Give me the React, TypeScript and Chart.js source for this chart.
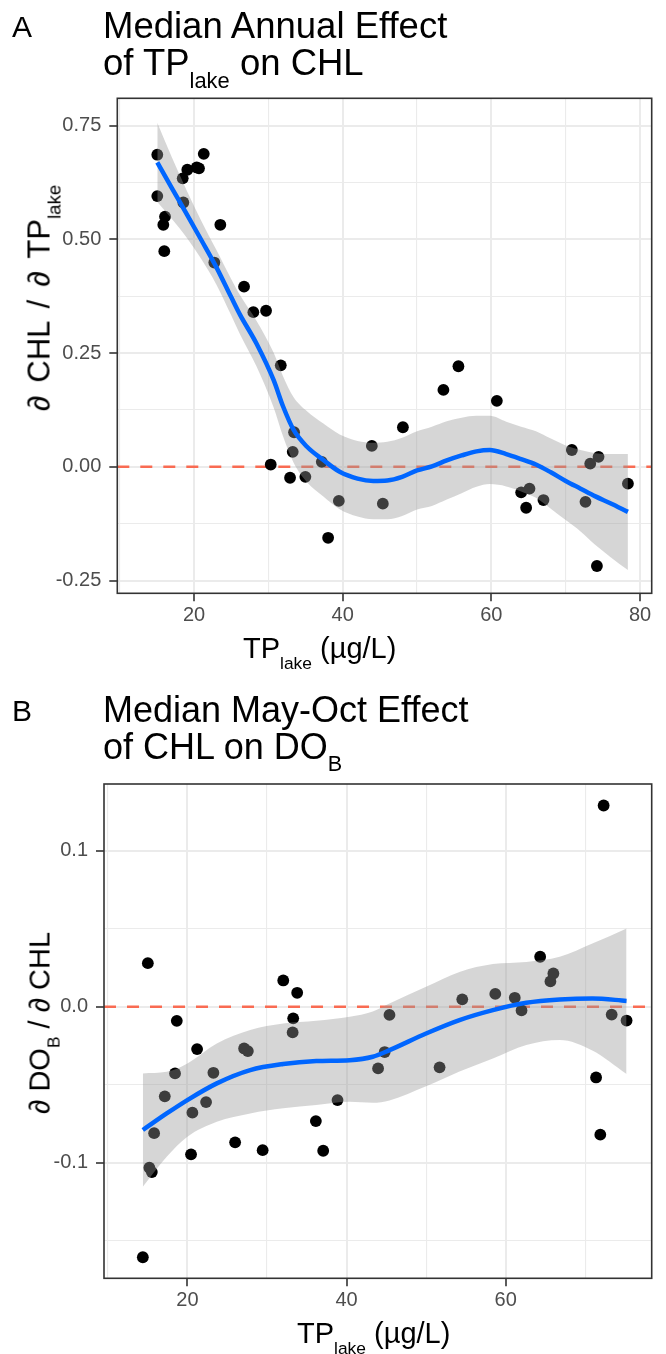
import React, { useEffect, useRef } from "react";
import { Chart, registerables } from "chart.js";
Chart.register(...registerables);

// ---------- Panel A data ----------
const tpA = [15.06, 21.31, 19.1, 20.67, 20.36, 18.48, 15.06, 18.56, 16.1, 15.87, 23.54, 16.0, 22.73, 26.73, 27.98, 29.69, 31.67, 30.32, 33.46, 33.28, 32.92, 34.98, 37.19, 39.48, 38.04, 43.92, 45.4, 48.1, 53.55, 55.57, 60.74, 64.01, 65.13, 64.68, 67.01, 70.83, 72.66, 73.3, 74.42, 74.2, 78.37];
const effA = [0.686, 0.688, 0.653, 0.656, 0.658, 0.634, 0.595, 0.581, 0.55, 0.532, 0.532, 0.474, 0.449, 0.396, 0.34, 0.343, 0.223, 0.005, 0.076, 0.033, -0.024, -0.022, 0.011, -0.075, -0.156, 0.046, -0.081, 0.087, 0.169, 0.221, 0.145, -0.056, -0.048, -0.09, -0.073, 0.037, -0.077, 0.007, 0.022, -0.218, -0.037];
const smoothXA = [15.06, 17, 19, 21, 23, 25, 26.2, 28.4, 30.7, 32, 33.4, 35.2, 37.4, 39.6, 42, 44.1, 46, 48, 50, 52, 54, 56, 58, 59.8, 62, 64, 66, 68, 70, 72, 74, 76, 78.37];
const smoothFitA = [0.669, 0.613, 0.556, 0.498, 0.439, 0.373, 0.334, 0.271, 0.191, 0.132, 0.081, 0.044, 0.015, -0.011, -0.026, -0.031, -0.03, -0.022, -0.008, 0.001, 0.014, 0.025, 0.034, 0.037, 0.028, 0.017, 0.005, -0.012, -0.031, -0.048, -0.065, -0.08, -0.099];
const smoothHiA = [0.756, 0.681, 0.608, 0.54, 0.477, 0.413, 0.377, 0.321, 0.251, 0.198, 0.153, 0.122, 0.095, 0.071, 0.057, 0.053, 0.055, 0.064, 0.078, 0.088, 0.1, 0.108, 0.112, 0.112, 0.099, 0.088, 0.078, 0.062, 0.047, 0.037, 0.03, 0.028, 0.028];
const smoothLoA = [0.582, 0.545, 0.504, 0.456, 0.401, 0.333, 0.291, 0.221, 0.131, 0.066, 0.009, -0.034, -0.065, -0.093, -0.109, -0.115, -0.115, -0.108, -0.094, -0.086, -0.072, -0.058, -0.044, -0.038, -0.043, -0.054, -0.068, -0.092, -0.117, -0.142, -0.172, -0.198, -0.227];
const xMajorA = [20, 40, 60, 80];
const xLabelsA = ["20", "40", "60", "80"];
const xMinorA = [10, 30, 50, 70];
const yMajorA = [-0.25, 0, 0.25, 0.5, 0.75];
const yLabelsA = ["-0.25", "0.00", "0.25", "0.50", "0.75"];
const yMinorA = [-0.125, 0.125, 0.375, 0.625];

// ---------- Panel B data ----------
const tpB = [14.4, 15.03, 15.22, 15.53, 15.82, 17.16, 18.45, 18.67, 20.46, 20.63, 21.22, 22.35, 23.27, 26.0, 27.13, 27.6, 29.46, 32.05, 33.23, 33.3, 33.8, 36.15, 37.07, 38.87, 43.97, 44.8, 45.4, 51.7, 54.55, 58.7, 61.15, 62.0, 64.34, 65.63, 66.0, 71.37, 71.9, 72.32, 73.33, 75.2];
const effB = [-0.1606, 0.028, -0.1032, -0.106, -0.081, -0.0574, -0.0427, -0.009, -0.0946, -0.0679, -0.0271, -0.0611, -0.0423, -0.0869, -0.0267, -0.0284, -0.0919, 0.0169, -0.0164, -0.0074, 0.009, -0.0733, -0.0923, -0.0598, -0.0395, -0.029, -0.0052, -0.0388, 0.0048, 0.0083, 0.0058, -0.0023, 0.0321, 0.0163, 0.0214, -0.0453, -0.082, 0.1291, -0.005, -0.0088];
const smoothXB = [14.4, 17.4, 20, 23.7, 27.9, 32.05, 36.2, 40.4, 43.3, 45.4, 50, 54.2, 58.4, 62.6, 66.8, 70.9, 75.2];
const smoothFitB = [-0.079, -0.0684, -0.0598, -0.0491, -0.0406, -0.0367, -0.0348, -0.0342, -0.032, -0.0278, -0.0171, -0.0085, -0.0021, 0.0026, 0.0047, 0.0054, 0.0038];
const smoothHiB = [-0.0427, -0.0417, -0.0363, -0.0235, -0.0149, -0.0107, -0.009, -0.0064, -0.003, 0.0022, 0.0128, 0.0224, 0.0274, 0.0288, 0.0321, 0.0406, 0.0503];
const smoothLoB = [-0.1154, -0.0962, -0.0833, -0.0737, -0.0684, -0.0651, -0.063, -0.0609, -0.0615, -0.06, -0.051, -0.0415, -0.0331, -0.0245, -0.0213, -0.028, -0.0431];
const xMajorB = [20, 40, 60];
const xLabelsB = ["20", "40", "60"];
const xMinorB = [10, 30, 50, 70];
const yMajorB = [-0.1, 0, 0.1];
const yLabelsB = ["-0.1", "0.0", "0.1"];
const yMinorB = [-0.15, -0.05, 0.05];

// ---------- styling ----------
const FONT = '"Liberation Sans", Arial, Helvetica, sans-serif';
const GRID = "#EBEBEB";
const FRAME = "#333333";
const TICKTXT = "#4D4D4D";
const FIT = "#0066FF";
const BAND = "rgba(153,153,153,0.4)";
const ZERO = "rgba(250,96,68,0.92)";

type Panel = {
  x: number[]; y: number[];
  sx: number[]; fit: number[]; hi: number[]; lo: number[];
  xMajor: number[]; xLabels: string[]; xMinor: number[];
  yMajor: number[]; yLabels: string[]; yMinor: number[];
  xMin: number; xMax: number; yMin: number; yMax: number;
  canvasTop: number; canvasH: number;
  areaLeft: number; areaTop: number; areaRight: number; areaBottom: number;
};

const near = (arr: number[], v: number) => arr.findIndex((a) => Math.abs(a - v) < 1e-9);

const framePlugin = {
  id: "frame",
  afterDraw(chart: any) {
    const { ctx, chartArea } = chart;
    ctx.save();
    ctx.strokeStyle = FRAME;
    ctx.lineWidth = 1.6;
    ctx.strokeRect(chartArea.left, chartArea.top, chartArea.right - chartArea.left, chartArea.bottom - chartArea.top);
    ctx.restore();
  },
};

const zeroPlugin = {
  id: "zeroLine",
  beforeDatasetsDraw(chart: any) {
    const { ctx, chartArea, scales } = chart;
    const py = scales.y.getPixelForValue(0);
    ctx.save();
    ctx.strokeStyle = ZERO;
    ctx.lineWidth = 2.6;
    ctx.setLineDash([12, 11]);
    ctx.beginPath();
    ctx.moveTo(chartArea.left, py);
    ctx.lineTo(chartArea.right, py);
    ctx.stroke();
    ctx.restore();
  },
};

function buildConfig(p: Panel): any {
  const pts = p.x.map((x, i) => ({ x, y: p.y[i] }));
  const fit = p.sx.map((x, i) => ({ x, y: p.fit[i] }));
  const lo = p.sx.map((x, i) => ({ x, y: p.lo[i] }));
  const hi = p.sx.map((x, i) => ({ x, y: p.hi[i] }));
  const xTicks = [...p.xMajor, ...p.xMinor].sort((a, b) => a - b);
  const yTicks = [...p.yMajor, ...p.yMinor].sort((a, b) => a - b);
  const tickFont = { family: FONT, size: 20 };
  return {
    type: "scatter",
    data: {
      datasets: [
        { type: "line", data: fit, borderColor: FIT, borderWidth: 4.5, pointRadius: 0, fill: false, cubicInterpolationMode: "monotone", order: 0 },
        { type: "line", data: lo, borderColor: "rgba(0,0,0,0)", borderWidth: 0, pointRadius: 0, fill: false, cubicInterpolationMode: "monotone", order: 1 },
        { type: "line", data: hi, borderColor: "rgba(0,0,0,0)", borderWidth: 0, pointRadius: 0, fill: 1, backgroundColor: BAND, cubicInterpolationMode: "monotone", order: 1 },
        { type: "scatter", data: pts, pointRadius: 5.9, pointHoverRadius: 5.9, backgroundColor: "#000000", borderWidth: 0, order: 2 },
      ],
    },
    options: {
      animation: false,
      responsive: false,
      devicePixelRatio: 1,
      events: [],
      layout: {
        padding: { left: 0, top: p.areaTop - p.canvasTop, right: 666 - p.areaRight, bottom: 0 },
      },
      plugins: { legend: { display: false }, tooltip: { enabled: false } },
      scales: {
        x: {
          type: "linear",
          min: p.xMin,
          max: p.xMax,
          afterBuildTicks: (s: any) => { s.ticks = xTicks.map((v) => ({ value: v })); },
          afterFit: (s: any) => { s.height = p.canvasTop + p.canvasH - p.areaBottom; },
          border: { display: false },
          grid: {
            color: GRID,
            lineWidth: (c: any) => (c.tick && near(p.xMajor, c.tick.value) >= 0 ? 2 : 1.1),
            tickColor: (c: any) => (c.tick && near(p.xMajor, c.tick.value) >= 0 ? FRAME : "rgba(0,0,0,0)"),
            tickLength: 8,
            tickWidth: 1.6,
          },
          ticks: {
            autoSkip: false,
            maxRotation: 0,
            padding: 2,
            color: TICKTXT,
            font: tickFont,
            callback: (v: number) => { const i = near(p.xMajor, v); return i >= 0 ? p.xLabels[i] : ""; },
          },
        },
        y: {
          type: "linear",
          min: p.yMin,
          max: p.yMax,
          afterBuildTicks: (s: any) => { s.ticks = yTicks.map((v) => ({ value: v })); },
          afterFit: (s: any) => { s.width = p.areaLeft; },
          border: { display: false },
          grid: {
            color: GRID,
            lineWidth: (c: any) => (c.tick && near(p.yMajor, c.tick.value) >= 0 ? 2 : 1.1),
            tickColor: (c: any) => (c.tick && near(p.yMajor, c.tick.value) >= 0 ? FRAME : "rgba(0,0,0,0)"),
            tickLength: 8,
            tickWidth: 1.6,
          },
          ticks: {
            autoSkip: false,
            padding: 8,
            color: TICKTXT,
            font: tickFont,
            callback: (v: number) => { const i = near(p.yMajor, v); return i >= 0 ? p.yLabels[i] : ""; },
          },
        },
      },
    },
    plugins: [zeroPlugin, framePlugin],
  };
}

const panelA: Panel = {
  x: tpA, y: effA, sx: smoothXA, fit: smoothFitA, hi: smoothHiA, lo: smoothLoA,
  xMajor: xMajorA, xLabels: xLabelsA, xMinor: xMinorA,
  yMajor: yMajorA, yLabels: yLabelsA, yMinor: yMinorA,
  xMin: 9.68, xMax: 81.57, yMin: -0.278, yMax: 0.81,
  canvasTop: 0, canvasH: 640,
  areaLeft: 117.3, areaTop: 98.3, areaRight: 651.7, areaBottom: 593.3,
};

const panelB: Panel = {
  x: tpB, y: effB, sx: smoothXB, fit: smoothFitB, hi: smoothHiB, lo: smoothLoB,
  xMajor: xMajorB, xLabels: xLabelsB, xMinor: xMinorB,
  yMajor: yMajorB, yLabels: yLabelsB, yMinor: yMinorB,
  xMin: 9.52, xMax: 78.36, yMin: -0.1741, yMax: 0.1429,
  canvasTop: 700, canvasH: 654,
  areaLeft: 104, areaTop: 784, areaRight: 651.7, areaBottom: 1278.3,
};

function PanelCanvas({ panel }: { panel: Panel }) {
  const ref = useRef<HTMLCanvasElement | null>(null);
  useEffect(() => {
    if (!ref.current) return;
    const chart = new Chart(ref.current, buildConfig(panel));
    return () => chart.destroy();
  }, [panel]);
  return (
    <canvas
      ref={ref}
      width={666}
      height={panel.canvasH}
      style={{ position: "absolute", left: 0, top: panel.canvasTop, width: 666, height: panel.canvasH }}
    />
  );
}

function Sub({ children }: { children: React.ReactNode }) {
  return <span style={{ fontSize: "0.6em", position: "relative", top: "0.6em", wordSpacing: "normal" }}>{children}</span>;
}

function Label({ x, baseline, size, children }: { x: number; baseline: number; size: number; children: React.ReactNode }) {
  return (
    <div style={{ position: "absolute", left: x, top: baseline - 0.8465 * size, fontSize: size, lineHeight: 1, fontFamily: FONT, color: "#000", whiteSpace: "nowrap" }}>
      {children}
    </div>
  );
}

function VLabel({ cx, cy, size, spacing, children }: { cx: number; cy: number; size: number; spacing?: string; children: React.ReactNode }) {
  return (
    <div style={{ position: "absolute", left: cx, top: cy, transform: "translate(-50%, -50%) rotate(-90deg)", fontSize: size, lineHeight: 1, fontFamily: FONT, color: "#000", whiteSpace: "nowrap", wordSpacing: spacing || "normal" }}>
      {children}
    </div>
  );
}

export default function App() {
  return (
    <div style={{ position: "absolute", left: 0, top: 0, width: 666, height: 1354, overflow: "hidden", background: "#fff" }}>
      <PanelCanvas panel={panelA} />
      <PanelCanvas panel={panelB} />

      <Label x={12} baseline={37} size={30}>A</Label>
      <Label x={103} baseline={38.5} size={36.5}>Median Annual Effect</Label>
      <Label x={103} baseline={75.5} size={36.5}>of TP<Sub>lake</Sub> on CHL</Label>
      <Label x={243} baseline={659} size={29}>TP<Sub>lake</Sub> (µg/L)</Label>
      <VLabel cx={38.5} cy={298} size={31} spacing="0.15em">∂ CHL / ∂ TP<Sub>lake</Sub></VLabel>

      <Label x={12} baseline={721} size={30}>B</Label>
      <Label x={103} baseline={722} size={36}>Median May-Oct Effect</Label>
      <Label x={103} baseline={759} size={36}>of CHL on DO<Sub>B</Sub></Label>
      <Label x={297} baseline={1344} size={29}>TP<Sub>lake</Sub> (µg/L)</Label>
      <VLabel cx={40} cy={1023} size={29}>∂ DO<Sub>B</Sub> / ∂ CHL</VLabel>
    </div>
  );
}
